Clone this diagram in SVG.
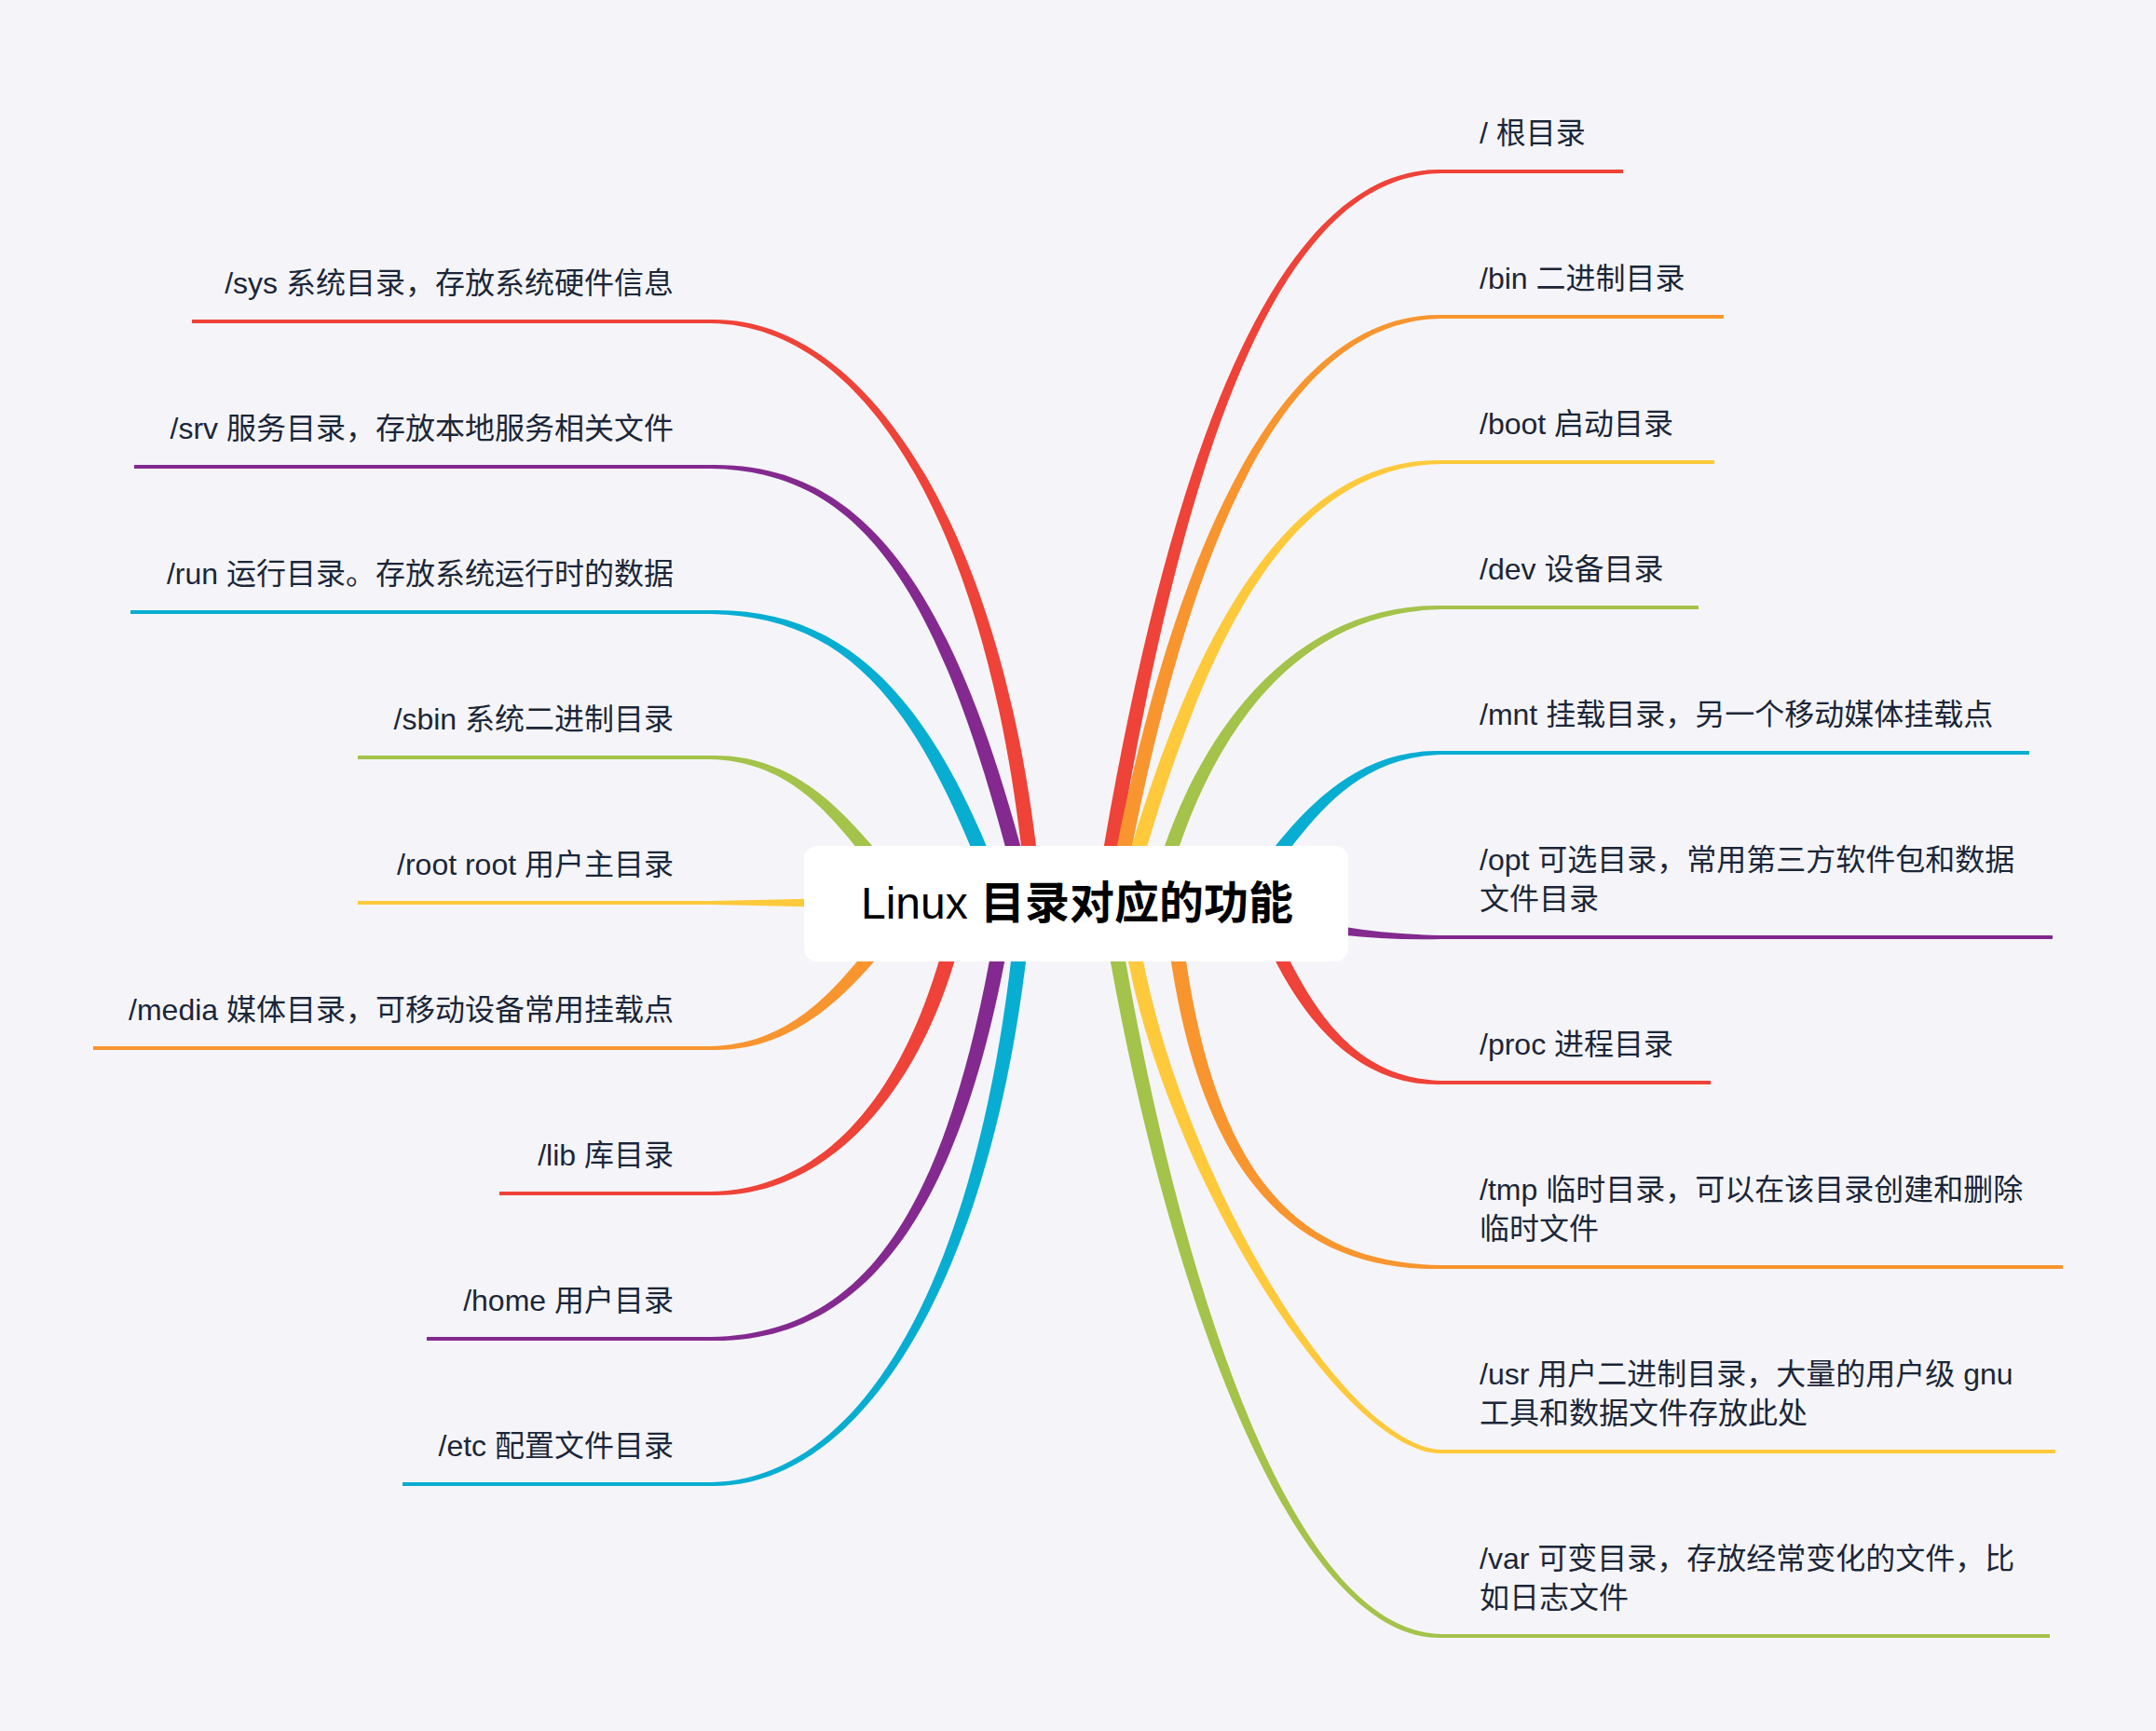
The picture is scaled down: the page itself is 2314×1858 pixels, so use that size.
<svg xmlns="http://www.w3.org/2000/svg" width="2314" height="1858" viewBox="0 0 2314 1858">
<style>
.lbl{font-family:"Liberation Sans","Noto Sans CJK SC",sans-serif;font-size:32px;fill:#1b2638}
.end{text-anchor:end}
.title{font-family:"Liberation Sans","Noto Sans CJK SC",sans-serif;font-size:48px;fill:#000;text-anchor:middle}
.red{fill:#EF4238}.org{fill:#F8952F}.yel{fill:#FEC93B}.grn{fill:#A3C34A}.cyn{fill:#08ADD2}.pur{fill:#83298F}
</style>
<rect width="2314" height="1858" fill="#F5F5F9"/>
<g id="connectors">
<path class="red" d="M1195.9,938.9 L1200.9,909.3 C1275.5,466.5 1377,188.6 1547,186 L1547,182 C1377,179.4 1261.3,464.1 1185.1,906.7 L1180.1,936.3 Z"/>
<path class="org" d="M1208.9,939 L1214.8,909.6 C1283.1,564.1 1384,344.6 1547,342 L1547,338 C1384,335.4 1268.9,561.3 1199.2,906.4 L1193.3,935.8 Z"/>
<path class="yel" d="M1222.1,939 L1230.7,910.3 C1302.9,666.1 1391,500.6 1547,498 L1547,494 C1391,491.4 1289.1,661.9 1215.3,905.7 L1206.7,934.4 Z"/>
<path class="grn" d="M1255.2,938.8 L1265.1,910.5 C1316.4,760.2 1408,656.4 1547,654 L1547,650 C1408,647.6 1303.6,755.8 1250.9,905.5 L1241,933.8 Z"/>
<path class="cyn" d="M1364.7,935.8 L1383.5,912.4 C1421.3,863.5 1466,812.2 1547,810 L1547,806 C1466,803.8 1411.7,855.7 1372.5,903.6 L1353.8,927 Z"/>
<path class="pur" d="M1409.7,999.3 L1439.4,1003.5 C1474.2,1007.5 1510,1008.8 1547,1008 L1547,1004 C1510,1003.2 1475.2,1000.3 1440.6,994.5 L1410.9,990.3 Z"/>
<path class="red" d="M1357,1008.6 L1370.8,1035.2 C1408.5,1106.9 1465,1166.2 1547,1164 L1547,1160 C1465,1157.8 1419.5,1101.1 1383.2,1028.8 L1369.4,1002.2 Z"/>
<path class="org" d="M1252.7,1003.5 L1257.1,1033.2 C1296.5,1290.1 1412,1364.6 1547,1362 L1547,1358 C1412,1355.4 1310.7,1287.9 1272.9,1030.8 L1268.5,1001.1 Z"/>
<path class="yel" d="M1205.3,1004.2 L1211.2,1033.6 C1260.9,1278.4 1447,1562.6 1547,1560 L1547,1556 C1447,1553.4 1275.1,1275.6 1226.8,1030.4 L1220.9,1001 Z"/>
<path class="grn" d="M1186.8,1003.9 L1192.1,1033.4 C1263.7,1426.9 1397,1760.6 1547,1758 L1547,1754 C1397,1751.4 1277.9,1424.3 1207.9,1030.6 L1202.6,1001.1 Z"/>
<path class="red" d="M1115.5,936.8 L1111.9,907 C1069.6,559.6 928,340.4 763,343 L763,347 C928,349.6 1055.3,561.4 1096.1,909 L1099.7,938.8 Z"/>
<path class="pur" d="M1102.5,934.9 L1094.7,905.9 C1016,616.6 918.5,496.4 763,499 L763,503 C918.5,505.6 1002.1,620.4 1079.3,910.1 L1087.1,939 Z"/>
<path class="cyn" d="M1069,932.6 L1057.4,904.9 C986.9,739.2 901,652.4 763,655 L763,659 C901,661.6 973.7,744.8 1042.6,911.1 L1054.2,938.8 Z"/>
<path class="grn" d="M951.7,926.5 L932.4,903.5 C893.8,858.8 842,808.8 763,811 L763,815 C842,817.2 884.3,866.8 921.6,912.5 L940.9,935.5 Z"/>
<path class="yel" d="M880,964.5 L763,967 L763,971 L880,973.5 Z"/>
<path class="org" d="M943.2,1004.7 L923.7,1027.5 C886.6,1072 842,1120.8 763,1123 L763,1127 C842,1129.2 896,1080 934.3,1036.6 L953.8,1013.8 Z"/>
<path class="red" d="M1016.9,1001 L1008.3,1029.7 C964.9,1177.4 884,1276.4 763,1279 L763,1283 C884,1285.6 978.7,1181.6 1023.7,1034.3 L1032.3,1005.6 Z"/>
<path class="pur" d="M1067.7,1001 L1062.1,1030.5 C1006.9,1325.3 913,1432.4 763,1435 L763,1439 C913,1441.6 1021.1,1328 1077.9,1033.5 L1083.5,1004 Z"/>
<path class="cyn" d="M1088.7,1001.2 L1085.1,1031 C1044.3,1378.6 923,1588.4 763,1591 L763,1595 C923,1597.6 1058.6,1380.4 1100.9,1033 L1104.5,1003.2 Z"/>
</g>
<g id="node-root-dir"><rect class="red" x="1547" y="182" width="195" height="4"/><text class="lbl" x="1588" y="154">/ 根目录</text></g>
<g id="node-bin"><rect class="org" x="1547" y="338" width="303" height="4"/><text class="lbl" x="1588" y="310">/bin 二进制目录</text></g>
<g id="node-boot"><rect class="yel" x="1547" y="494" width="293" height="4"/><text class="lbl" x="1588" y="466">/boot 启动目录</text></g>
<g id="node-dev"><rect class="grn" x="1547" y="650" width="276" height="4"/><text class="lbl" x="1588" y="622">/dev 设备目录</text></g>
<g id="node-mnt"><rect class="cyn" x="1547" y="806" width="631" height="4"/><text class="lbl" x="1588" y="778">/mnt 挂载目录，另一个移动媒体挂载点</text></g>
<g id="node-opt"><rect class="pur" x="1547" y="1004" width="656" height="4"/><text class="lbl" x="1588" y="934"><tspan x="1588">/opt 可选目录，常用第三方软件包和数据</tspan><tspan x="1588" dy="42">文件目录</tspan></text></g>
<g id="node-proc"><rect class="red" x="1547" y="1160" width="289" height="4"/><text class="lbl" x="1588" y="1132">/proc 进程目录</text></g>
<g id="node-tmp"><rect class="org" x="1547" y="1358" width="667" height="4"/><text class="lbl" x="1588" y="1288"><tspan x="1588">/tmp 临时目录，可以在该目录创建和删除</tspan><tspan x="1588" dy="42">临时文件</tspan></text></g>
<g id="node-usr"><rect class="yel" x="1547" y="1556" width="659" height="4"/><text class="lbl" x="1588" y="1486"><tspan x="1588">/usr 用户二进制目录，大量的用户级 gnu</tspan><tspan x="1588" dy="42">工具和数据文件存放此处</tspan></text></g>
<g id="node-var"><rect class="grn" x="1547" y="1754" width="653" height="4"/><text class="lbl" x="1588" y="1684"><tspan x="1588">/var 可变目录，存放经常变化的文件，比</tspan><tspan x="1588" dy="42">如日志文件</tspan></text></g>
<g id="node-sys"><rect class="red" x="206" y="343" width="557" height="4"/><text class="lbl end" x="723" y="315">/sys 系统目录，存放系统硬件信息</text></g>
<g id="node-srv"><rect class="pur" x="144" y="499" width="619" height="4"/><text class="lbl end" x="723" y="471">/srv 服务目录，存放本地服务相关文件</text></g>
<g id="node-run"><rect class="cyn" x="140" y="655" width="623" height="4"/><text class="lbl end" x="723" y="627">/run 运行目录。存放系统运行时的数据</text></g>
<g id="node-sbin"><rect class="grn" x="384" y="811" width="379" height="4"/><text class="lbl end" x="723" y="783">/sbin 系统二进制目录</text></g>
<g id="node-root"><rect class="yel" x="384" y="967" width="379" height="4"/><text class="lbl end" x="723" y="939">/root root 用户主目录</text></g>
<g id="node-media"><rect class="org" x="100" y="1123" width="663" height="4"/><text class="lbl end" x="723" y="1095">/media 媒体目录，可移动设备常用挂载点</text></g>
<g id="node-lib"><rect class="red" x="536" y="1279" width="227" height="4"/><text class="lbl end" x="723" y="1251">/lib 库目录</text></g>
<g id="node-home"><rect class="pur" x="458" y="1435" width="305" height="4"/><text class="lbl end" x="723" y="1407">/home 用户目录</text></g>
<g id="node-etc"><rect class="cyn" x="432" y="1591" width="331" height="4"/><text class="lbl end" x="723" y="1563">/etc 配置文件目录</text></g>
<g id="center"><rect x="863" y="908" width="584" height="124" rx="14" fill="#FFFFFF"/><text class="title" x="1156" y="986">Linux <tspan font-weight="700">目录对应的功能</tspan></text></g>
</svg>
